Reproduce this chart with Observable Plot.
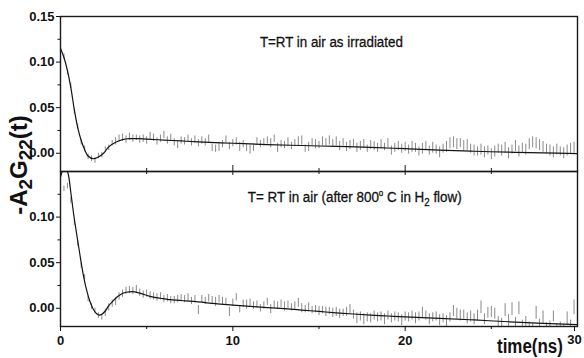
<!DOCTYPE html>
<html>
<head>
<meta charset="utf-8">
<script src="https://cdn.jsdelivr.net/npm/d3@7"></script>
<script src="https://cdn.jsdelivr.net/npm/@observablehq/plot@0.6"></script>
<style>
  html, body { margin: 0; padding: 0; background: #fff; }
  #chart { position: relative; width: 584px; height: 358px; overflow: hidden; background: #fff; }
  #chart svg { position: absolute; left: 0; }
</style>
</head>
<body>
<div id="chart"></div>
<script>
// Channel width of the time spectra (ns)
const timeStep = 0.2;

// Upper spectrum: as irradiated, measured at room temperature in air
const topValues = [
  0.114, 0.106, 0.089, 0.074, 0.046, 0.029, 0.012, 0.005, -0.004, -0.006,
  -0.008, -0.003, -0.002, 0.004, 0.006, 0.011, 0.013, 0.016, 0.017, 0.015,
  0.018, 0.016, 0.017, 0.015, 0.016, 0.014, 0.019, 0.017, 0.013, 0.016,
  0.020, 0.014, 0.017, 0.012, 0.009, 0.014, 0.013, 0.016, 0.012, 0.015,
  0.011, 0.014, 0.012, 0.016, 0.006, 0.005, 0.007, 0.010, 0.015, 0.008,
  0.011, 0.013, 0.007, 0.010, 0.006, 0.004, 0.006, 0.013, 0.010, 0.012,
  0.014, 0.011, 0.016, 0.006, 0.010, 0.009, 0.012, 0.008, 0.011, 0.013,
  0.014, 0.005, 0.007, 0.012, 0.010, 0.009, 0.013, 0.012, 0.014, 0.011,
  0.013, 0.008, 0.012, 0.007, 0.009, 0.011, 0.006, 0.008, 0.010, 0.005,
  0.009, 0.008, 0.006, 0.010, 0.007, 0.011, 0.003, 0.006, 0.008, 0.005,
  0.007, 0.004, 0.007, 0.006, 0.002, 0.005, 0.008, 0.003, 0.006, 0.004,
  0.001, 0.005, 0.007, 0.011, 0.012, 0.010, 0.011, 0.008, 0.009, 0.005,
  0.003, 0.002, 0.004, 0.001, 0.003, -0.001, 0.002, 0.005, 0.003, 0.006,
  0.000, 0.004, 0.008, 0.002, 0.006, 0.004, 0.010, 0.012, 0.011, 0.009,
  0.007, 0.005, 0.003, 0.001, 0.004, 0.002, 0.000, 0.003, 0.005, 0.006,
  0.004
];
const topErrors = [
  0.003, 0.003, 0.003, 0.003, 0.003, 0.003, 0.003, 0.003, 0.003, 0.003,
  0.003, 0.003, 0.003, 0.003, 0.003, 0.003, 0.004, 0.004, 0.004, 0.004,
  0.004, 0.004, 0.003, 0.004, 0.004, 0.004, 0.004, 0.004, 0.004, 0.004,
  0.004, 0.004, 0.004, 0.004, 0.004, 0.004, 0.004, 0.004, 0.004, 0.004,
  0.004, 0.004, 0.004, 0.004, 0.004, 0.004, 0.005, 0.004, 0.004, 0.004,
  0.004, 0.004, 0.005, 0.004, 0.004, 0.005, 0.004, 0.004, 0.004, 0.004,
  0.004, 0.005, 0.004, 0.005, 0.004, 0.004, 0.005, 0.004, 0.004, 0.005,
  0.005, 0.004, 0.005, 0.004, 0.005, 0.004, 0.005, 0.004, 0.005, 0.004,
  0.005, 0.005, 0.004, 0.005, 0.005, 0.004, 0.005, 0.005, 0.005, 0.004,
  0.005, 0.005, 0.005, 0.005, 0.004, 0.005, 0.005, 0.005, 0.005, 0.005,
  0.005, 0.005, 0.006, 0.005, 0.005, 0.006, 0.005, 0.005, 0.006, 0.005,
  0.006, 0.005, 0.006, 0.006, 0.006, 0.006, 0.005, 0.006, 0.006, 0.005,
  0.006, 0.005, 0.006, 0.006, 0.005, 0.006, 0.006, 0.005, 0.006, 0.006,
  0.006, 0.005, 0.006, 0.006, 0.005, 0.006, 0.006, 0.006, 0.006, 0.006,
  0.006, 0.005, 0.006, 0.006, 0.006, 0.005, 0.006, 0.006, 0.006, 0.006,
  0.006
];
// Least-squares fit for the upper spectrum
const topFitTimes = [0, 0.2, 0.4, 0.6, 0.8, 1.0, 1.2, 1.4, 1.6, 1.9, 2.2, 2.5, 2.8, 3.2, 3.6, 4.0, 4.5, 5, 6, 7, 8, 10, 12, 14, 16, 18, 20, 22, 24, 26, 28, 30];
const topFit = [0.115, 0.105, 0.091, 0.072, 0.048, 0.028, 0.014, 0.004, -0.003, -0.006, -0.004, 0.000, 0.007, 0.012, 0.015, 0.016, 0.016, 0.0155, 0.0145, 0.0135, 0.0125, 0.011, 0.0095, 0.0085, 0.0075, 0.0065, 0.005, 0.0035, 0.0022, 0.0012, 0.0004, -0.0003];

// Lower spectrum: room temperature in air after 800 °C anneal in H2 flow
const bottomValues = [
  0.128, 0.131, 0.134, 0.118, 0.094, 0.071, 0.047, 0.034, 0.010, 0.002,
  -0.003, -0.008, -0.010, -0.005, 0.001, 0.005, 0.007, 0.013, 0.016, 0.019,
  0.020, 0.019, 0.021, 0.017, 0.015, 0.016, 0.014, 0.013, 0.012, 0.013,
  0.010, 0.011, 0.009, 0.009, 0.010, 0.011, 0.010, 0.012, 0.008, 0.010,
  -0.002, 0.010, 0.008, 0.011, 0.009, 0.007, 0.010, 0.008, 0.007, -0.004,
  0.006, 0.012, -0.001, 0.005, 0.004, 0.006, 0.003, 0.004, 0.000, 0.003,
  0.007, -0.001, 0.004, 0.003, 0.005, 0.002, 0.004, 0.001, 0.003, 0.006,
  0.000, -0.001, 0.001, -0.002, -0.001, -0.003, -0.002, -0.004, -0.003, -0.005,
  -0.004, -0.006, -0.005, -0.004, -0.001, -0.007, -0.011, -0.009, -0.012, -0.010,
  -0.011, -0.008, -0.010, -0.009, -0.012, -0.008, -0.011, -0.009, -0.010, -0.013,
  -0.009, -0.010, -0.008, -0.011, -0.009, -0.005, -0.008, -0.012, -0.010, -0.009,
  -0.013, -0.011, -0.014, -0.010, -0.003, -0.006, -0.008, -0.007, -0.011, -0.009,
  -0.012, -0.008, 0.001, -0.012, -0.005, -0.004, -0.006, -0.016, -0.018, -0.002,
  -0.014, -0.001, -0.017, 0.000, -0.020, -0.015, -0.022, -0.024, -0.005, -0.019,
  -0.010, -0.023, -0.021, -0.009, -0.024, -0.022, -0.025, -0.011, -0.020, 0.001,
  -0.012
];
const bottomErrors = [
  0.003, 0.003, 0.003, 0.003, 0.003, 0.003, 0.003, 0.003, 0.003, 0.003,
  0.003, 0.003, 0.003, 0.004, 0.004, 0.004, 0.004, 0.004, 0.004, 0.004,
  0.004, 0.004, 0.004, 0.004, 0.004, 0.004, 0.004, 0.004, 0.004, 0.004,
  0.004, 0.004, 0.004, 0.004, 0.004, 0.004, 0.004, 0.004, 0.004, 0.004,
  0.005, 0.004, 0.004, 0.004, 0.004, 0.005, 0.004, 0.004, 0.004, 0.005,
  0.004, 0.004, 0.004, 0.004, 0.005, 0.004, 0.004, 0.004, 0.004, 0.004,
  0.004, 0.005, 0.004, 0.004, 0.004, 0.005, 0.004, 0.004, 0.004, 0.005,
  0.005, 0.004, 0.005, 0.004, 0.004, 0.005, 0.004, 0.005, 0.004, 0.005,
  0.005, 0.005, 0.004, 0.005, 0.005, 0.005, 0.006, 0.005, 0.006, 0.005,
  0.005, 0.005, 0.005, 0.005, 0.006, 0.005, 0.005, 0.005, 0.005, 0.006,
  0.005, 0.005, 0.005, 0.006, 0.005, 0.006, 0.005, 0.006, 0.005, 0.005,
  0.006, 0.005, 0.006, 0.005, 0.006, 0.006, 0.006, 0.005, 0.006, 0.006,
  0.006, 0.006, 0.007, 0.006, 0.006, 0.006, 0.006, 0.007, 0.007, 0.007,
  0.007, 0.007, 0.007, 0.007, 0.007, 0.006, 0.007, 0.007, 0.007, 0.007,
  0.007, 0.007, 0.007, 0.006, 0.007, 0.007, 0.007, 0.007, 0.007, 0.008,
  0.007
];
// Least-squares fit for the lower spectrum
const bottomFitTimes = [0, 0.15, 0.3, 0.45, 0.6, 0.75, 0.9, 1.05, 1.2, 1.35, 1.5, 1.7, 1.9, 2.1, 2.25, 2.4, 2.6, 2.8, 3.0, 3.2, 3.4, 3.7, 4.0, 4.3, 4.7, 5.2, 5.8, 6.3, 7, 8, 9, 10, 11, 12, 13, 14, 15, 16, 17, 18, 19, 20, 22, 24, 26, 28, 30];
const bottomFit = [0.144, 0.152, 0.155, 0.147, 0.127, 0.105, 0.086, 0.068, 0.050, 0.034, 0.021, 0.008, -0.001, -0.006, -0.0075, -0.0065, -0.003, 0.003, 0.007, 0.011, 0.014, 0.017, 0.018, 0.018, 0.016, 0.013, 0.011, 0.0095, 0.0085, 0.007, 0.005, 0.0035, 0.002, 0.0007, -0.0005, -0.002, -0.0035, -0.005, -0.0063, -0.0075, -0.0085, -0.0095, -0.011, -0.0128, -0.0148, -0.0165, -0.018];

// Axis ticks
const xLabelled = [0, 10, 20];
const xLast = [30];
const xMajor = [0, 10, 20, 30];
const xMinor = [5, 15, 25];
const yMajorTop = [0, 0.05, 0.10, 0.15];
const yMajorBottom = [0, 0.05, 0.10];
const yMinor = [0.025, 0.075, 0.125];
const xDomain = [0, 30];
const yDomain = [-0.02, 0.15];

// Panel annotations
const topNote = {t: 11.6, v: 0.116, parts: ["T=RT in air as irradiated"]};
const bottomNote = {t: 10.9, v: 0.116, parts: ["T= RT in air (after 800", "o", " C in H", "2", " flow)"]};
const xTitle = "time(ns)";

const SANS = '"Liberation Sans", Arial, sans-serif';
const frameHeight = 155;

function spectrum(values, errors) {
  return values.map((v, i) => ({t: +(i * timeStep).toFixed(1), lo: v - errors[i], hi: v + errors[i]}));
}
function fitRows(times, fit) {
  return times.map((t, i) => ({t, v: fit[i]}));
}
const tickText = {fontWeight: "bold", fontSize: 13, fontFamily: SANS, fill: "#111"};

function panel({values, errors, fitT, fitV, yMajor, marginTop, marginBottom, showX, extra}) {
  return Plot.plot({
    width: 584,
    height: marginTop + frameHeight + marginBottom,
    marginTop, marginBottom,
    marginLeft: 60,
    marginRight: 7,
    x: {domain: xDomain, label: null, ...(showX ? {} : {axis: null})},
    y: {domain: yDomain, label: null},
    style: {background: "transparent", overflow: "visible", fontFamily: SANS, fontSize: "13px", fontWeight: "bold", color: "#111"},
    marks: [
      Plot.ruleX(spectrum(values, errors), {x: "t", y1: "lo", y2: "hi", stroke: "#8a8a8a", strokeWidth: 1, clip: true}),
      Plot.line(fitRows(fitT, fitV), {x: "t", y: "v", curve: "catmull-rom", stroke: "#141414", strokeWidth: 1.2, clip: true}),
      Plot.frame({stroke: "#1a1a1a", strokeWidth: 1.4}),
      Plot.axisY(yMajor, {tickSize: 4, tickPadding: 2, tickFormat: d => d.toFixed(2), ...tickText}),
      Plot.axisY(yMinor, {tickSize: 2.5, tickFormat: () => ""}),
      ...extra
    ]
  });
}

// Condensed label: sans text squeezed horizontally to a given width
function narrowText(svg, x, y, parts, size, width, {weight = "normal", anchor = "start", outline = 0.3} = {}) {
  const g = d3.select(svg).append("g").attr("transform", `translate(${x},${y})`);
  const t = g.append("text").attr("font-family", SANS).attr("font-size", size)
    .attr("font-weight", weight).attr("fill", "#111").attr("text-anchor", "start")
    .attr("stroke", "#111").attr("stroke-width", outline);
  parts.forEach((p, i) => {
    const s = t.append("tspan").text(p);
    if (parts.length > 1) {
      if (i === 1) s.attr("dy", -6).attr("font-size", size * 0.6);
      if (i === 2) s.attr("dy", 6);
      if (i === 3) s.attr("dy", 4).attr("font-size", size * 0.72);
      if (i === 4) s.attr("dy", -4);
    }
  });
  const natural = t.node().getComputedTextLength();
  const k = width / natural;
  t.attr("transform", `scale(${k},1)` + (anchor === "end" ? ` translate(${-natural},0)` : ""));
  return t;
}

const chart = document.getElementById("chart");

// Upper panel: ticks point inward from its lower edge
const topPlot = panel({
  values: topValues, errors: topErrors, fitT: topFitTimes, fitV: topFit,
  yMajor: yMajorTop, marginTop: 16, marginBottom: 1, showX: false,
  extra: [
    Plot.tickX(xMajor, {x: d => d, insetTop: frameHeight - 6, stroke: "#1a1a1a"}),
    Plot.tickX(xMinor, {x: d => d, insetTop: frameHeight - 3, stroke: "#1a1a1a"})
  ]
});
topPlot.style.top = "0px";
chart.appendChild(topPlot);

// Lower panel: inward ticks at the top edge, labelled axis at the bottom
const bottomPlot = panel({
  values: bottomValues, errors: bottomErrors, fitT: bottomFitTimes, fitV: bottomFit,
  yMajor: yMajorBottom, marginTop: 5, marginBottom: 32, showX: true,
  extra: [
    Plot.tickX(xMajor, {x: d => d, insetBottom: frameHeight - 4, stroke: "#1a1a1a"}),
    Plot.tickX(xMinor, {x: d => d, insetBottom: frameHeight - 3, stroke: "#1a1a1a"}),
    Plot.axisX(xLabelled, {anchor: "bottom", tickSize: 5, tickPadding: 4, tickFormat: d => String(d), ...tickText}),
    Plot.axisX(xLast, {anchor: "bottom", tickSize: 5, tickPadding: 3, tickFormat: d => String(d), dx: -3, ...tickText}),
    Plot.axisX(xMinor, {anchor: "bottom", tickSize: 3, tickFormat: () => ""})
  ]
});
bottomPlot.style.top = "166px";
chart.appendChild(bottomPlot);

// Panel annotations, positioned through each panel's scales
{
  const xs = topPlot.scale("x"), ys = topPlot.scale("y");
  narrowText(topPlot, xs.apply(topNote.t), ys.apply(topNote.v), topNote.parts, 15.5, 143);
}
{
  const xs = bottomPlot.scale("x"), ys = bottomPlot.scale("y");
  narrowText(bottomPlot, xs.apply(bottomNote.t), ys.apply(bottomNote.v), bottomNote.parts, 15.5, 214);
  // Axis title at the lower right, below the frame
  narrowText(bottomPlot, xs.apply(xDomain[1]) - 14, 5 + frameHeight + 27, [xTitle], 19.5, 66, {weight: "bold", anchor: "end", outline: 0});
}

// Shared vertical title across both panels
{
  const svg = d3.select(chart).append("svg")
    .attr("width", 584).attr("height", 358)
    .style("top", "0px").style("pointer-events", "none");
  const t = svg.append("text")
    .attr("transform", "translate(27,165) rotate(-90)")
    .attr("text-anchor", "middle")
    .attr("font-family", SANS)
    .attr("font-weight", "bold").attr("font-size", 24).attr("fill", "#111");
  t.append("tspan").text("-A");
  t.append("tspan").attr("dy", 5).attr("font-size", 19).text("2");
  t.append("tspan").attr("dy", -5).text("G");
  t.append("tspan").attr("dy", 5).attr("font-size", 19).text("22");
  t.append("tspan").attr("dy", -5).text("(t)");
}
</script>
</body>
</html>
